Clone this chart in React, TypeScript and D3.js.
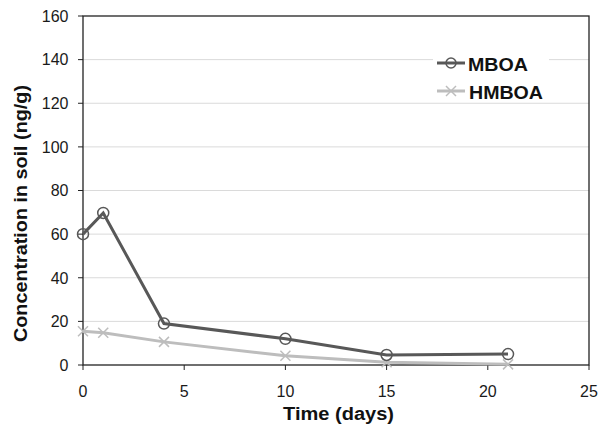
import React from "react";
import * as d3 from "d3";

const days = [0, 1, 4, 10, 15, 21];
const mboa = [60, 69.7, 19, 12, 4.6, 5];
const hmboa = [15.5, 14.8, 10.6, 4.2, 1.3, 0.3];
const xTicks = [0, 5, 10, 15, 20, 25];
const yTicks = [0, 20, 40, 60, 80, 100, 120, 140, 160];

export default function App() {
  const W = 600, H = 426;
  const L = 83, R = 589, T = 16, B = 365;
  const x = d3.scaleLinear().domain([0, 25]).range([L, R]);
  const y = d3.scaleLinear().domain([0, 160]).range([B, T]);
  const line = d3.line<number>().x((_, i) => x(days[i])).y((d) => y(d));
  const font = "Liberation Sans, Arial, sans-serif";
  const dark = "#585858";
  const light = "#bdbdbd";
  return (
    <svg width={W} height={H} style={{ position: "absolute", left: 0, top: 0, background: "#fff" }} fontFamily={font}>
      {yTicks.slice(1, -1).map((t) => (
        <line key={t} x1={L} x2={R} y1={y(t)} y2={y(t)} stroke="#dadada" strokeWidth={1} />
      ))}
      <rect x={L} y={T} width={R - L} height={B - T} fill="none" stroke="#222" strokeWidth={1.3} />
      {yTicks.map((t) => (
        <g key={t}>
          <line x1={L - 5} x2={L} y1={y(t)} y2={y(t)} stroke="#222" />
          <text x={L - 14.5} y={y(t)} dy="0.36em" textAnchor="end" fontSize={16} fill="#1a1a1a">{t}</text>
        </g>
      ))}
      {xTicks.map((t) => (
        <g key={t}>
          <line x1={x(t)} x2={x(t)} y1={B} y2={B + 5} stroke="#222" />
          <text x={x(t)} y={B + 32} textAnchor="middle" fontSize={16} fill="#1a1a1a">{t}</text>
        </g>
      ))}
      <text x={283} y={420} fontSize={18} fontWeight="bold" fill="#111" textLength={111} lengthAdjust="spacingAndGlyphs">Time (days)</text>
      <text transform={`translate(27,342) rotate(-90)`} fontSize={18} fontWeight="bold" fill="#111" textLength={257} lengthAdjust="spacingAndGlyphs">Concentration in soil (ng/g)</text>

      <path d={line(hmboa) || ""} fill="none" stroke={light} strokeWidth={3} />
      {hmboa.map((v, i) => (
        <g key={i} stroke={light} strokeWidth={1.5}>
          <line x1={x(days[i]) - 5} x2={x(days[i]) + 5} y1={y(v) - 5} y2={y(v) + 5} />
          <line x1={x(days[i]) - 5} x2={x(days[i]) + 5} y1={y(v) + 5} y2={y(v) - 5} />
        </g>
      ))}
      <path d={line(mboa) || ""} fill="none" stroke={dark} strokeWidth={3} />
      {mboa.map((v, i) => (
        <circle key={i} cx={x(days[i])} cy={y(v)} r={5.5} fill="none" stroke={dark} strokeWidth={1.5} />
      ))}

      <rect x={433} y={48} width={116} height={54} fill="#fff" />
      <line x1={437} x2={465} y1={63} y2={63} stroke={dark} strokeWidth={3} />
      <circle cx={451} cy={63} r={5} fill="none" stroke={dark} strokeWidth={1.5} />
      <text x={468} y={70.5} fontSize={18} fontWeight="bold" fill="#111" textLength={60} lengthAdjust="spacingAndGlyphs">MBOA</text>
      <line x1={437} x2={465} y1={91} y2={91} stroke={light} strokeWidth={3} />
      <g stroke={light} strokeWidth={1.5}>
        <line x1={446} x2={456} y1={86} y2={96} />
        <line x1={446} x2={456} y1={96} y2={86} />
      </g>
      <text x={469} y={98.5} fontSize={18} fontWeight="bold" fill="#111" textLength={74} lengthAdjust="spacingAndGlyphs">HMBOA</text>
    </svg>
  );
}
